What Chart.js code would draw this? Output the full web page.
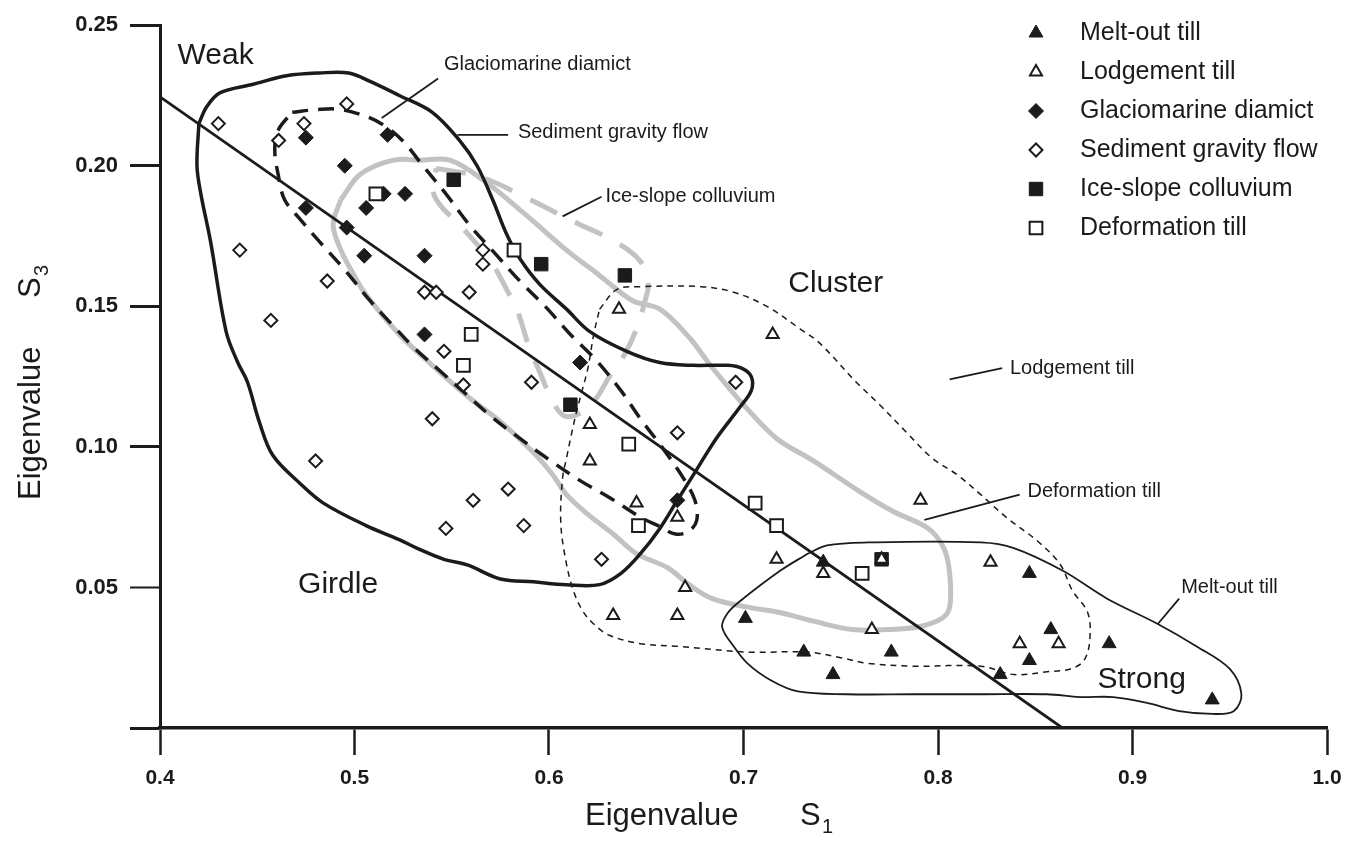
<!DOCTYPE html>
<html>
<head>
<meta charset="utf-8">
<script src="https://cdn.jsdelivr.net/npm/chart.js"></script>
<style>
  html, body { margin: 0; padding: 0; background: #fff; }
  canvas { display: block; }
</style>
</head>
<body>
<canvas id="fabricChart" width="1364" height="846"></canvas>
<script>
// ticks
const xTicks = [0.4, 0.5, 0.6, 0.7, 0.8, 0.9, 1.0];
const xTickLabels = ['0.4', '0.5', '0.6', '0.7', '0.8', '0.9', '1.0'];
const yTicks = [0, 0.05, 0.10, 0.15, 0.20, 0.25];
const yTickLabels = ['', '0.05', '0.10', '0.15', '0.20', '0.25'];

// samples: S1 and S3 eigenvalues per facies
const meltOutS1 = [0.741, 0.701, 0.731, 0.776, 0.746, 0.832, 0.847, 0.858, 0.888, 0.847, 0.941];
const meltOutS3 = [0.059, 0.039, 0.027, 0.027, 0.019, 0.019, 0.055, 0.035, 0.030, 0.024, 0.010];

const lodgementS1 = [0.636, 0.715, 0.621, 0.621, 0.645, 0.666, 0.670, 0.633, 0.666, 0.717, 0.791, 0.741, 0.766, 0.827, 0.842, 0.862, 0.771];
const lodgementS3 = [0.149, 0.140, 0.108, 0.095, 0.080, 0.075, 0.050, 0.040, 0.040, 0.060, 0.081, 0.055, 0.035, 0.059, 0.030, 0.030, 0.060];

const glaciomarineS1 = [0.475, 0.517, 0.495, 0.515, 0.526, 0.506, 0.475, 0.496, 0.505, 0.536, 0.536, 0.616, 0.666];
const glaciomarineS3 = [0.210, 0.211, 0.200, 0.190, 0.190, 0.185, 0.185, 0.178, 0.168, 0.168, 0.140, 0.130, 0.081];

const gravityFlowS1 = [0.430, 0.496, 0.474, 0.461, 0.441, 0.486, 0.457, 0.480, 0.566, 0.566, 0.536, 0.542, 0.559, 0.546, 0.556, 0.591, 0.540, 0.666, 0.696, 0.579, 0.561, 0.547, 0.587, 0.627];
const gravityFlowS3 = [0.215, 0.222, 0.215, 0.209, 0.170, 0.159, 0.145, 0.095, 0.170, 0.165, 0.155, 0.155, 0.155, 0.134, 0.122, 0.123, 0.110, 0.105, 0.123, 0.085, 0.081, 0.071, 0.072, 0.060];

const iceSlopeS1 = [0.551, 0.596, 0.639, 0.611, 0.771];
const iceSlopeS3 = [0.195, 0.165, 0.161, 0.115, 0.060];

const deformationS1 = [0.511, 0.582, 0.560, 0.556, 0.641, 0.646, 0.706, 0.717, 0.761];
const deformationS3 = [0.190, 0.170, 0.140, 0.129, 0.101, 0.072, 0.080, 0.072, 0.055];

// girdle-cluster dividing line
const trendS1 = [0.4, 0.864];
const trendS3 = [0.2245, 0.0];

// field outlines, [S1, S3]
const gravityFlowField = [
  [0.420,0.215],[0.424,0.221],[0.431,0.226],[0.448,0.229],[0.465,0.232],[0.482,0.233],[0.497,0.233],
  [0.508,0.230],[0.523,0.225],[0.540,0.219],[0.554,0.209],[0.563,0.200],[0.571,0.188],[0.578,0.176],
  [0.585,0.167],[0.595,0.158],[0.609,0.149],[0.621,0.141],[0.640,0.134],[0.657,0.130],[0.674,0.129],
  [0.692,0.129],[0.699,0.128],[0.704,0.125],[0.704,0.120],[0.698,0.114],[0.686,0.103],[0.676,0.092],
  [0.666,0.081],[0.657,0.071],[0.647,0.062],[0.637,0.055],[0.626,0.051],[0.609,0.051],[0.592,0.052],
  [0.575,0.053],[0.558,0.058],[0.546,0.060],[0.532,0.064],[0.523,0.067],[0.506,0.072],[0.484,0.080],
  [0.472,0.087],[0.458,0.097],[0.451,0.109],[0.445,0.123],[0.440,0.130],[0.434,0.141],[0.426,0.173],
  [0.421,0.190],[0.419,0.200],[0.420,0.215]
];
const glaciomarineField = [
  [0.468,0.219],[0.481,0.220],[0.493,0.220],[0.508,0.217],[0.518,0.213],[0.526,0.208],[0.534,0.201],
  [0.547,0.190],[0.559,0.179],[0.572,0.169],[0.585,0.159],[0.598,0.150],[0.611,0.140],[0.624,0.131],
  [0.637,0.120],[0.647,0.110],[0.658,0.100],[0.669,0.089],[0.675,0.081],[0.676,0.074],[0.672,0.070],
  [0.665,0.069],[0.656,0.072],[0.647,0.075],[0.631,0.082],[0.616,0.088],[0.601,0.095],[0.585,0.103],
  [0.570,0.111],[0.557,0.119],[0.544,0.127],[0.531,0.135],[0.520,0.143],[0.508,0.152],[0.495,0.163],
  [0.482,0.173],[0.472,0.181],[0.464,0.188],[0.461,0.196],[0.459,0.206],[0.461,0.213],[0.468,0.219]
];
const iceSlopeField = [
  [0.542,0.199],[0.565,0.196],[0.590,0.188],[0.613,0.180],[0.634,0.173],[0.647,0.166],[0.651,0.158],
  [0.649,0.151],[0.645,0.142],[0.639,0.133],[0.631,0.125],[0.624,0.117],[0.616,0.112],[0.608,0.111],
  [0.602,0.116],[0.595,0.127],[0.590,0.135],[0.584,0.148],[0.579,0.155],[0.570,0.166],[0.554,0.179],
  [0.544,0.186],[0.540,0.192],[0.542,0.199]
];
const deformationField = [
  [0.493,0.188],[0.503,0.197],[0.520,0.202],[0.534,0.202],[0.549,0.202],[0.566,0.195],[0.589,0.182],
  [0.609,0.170],[0.626,0.161],[0.643,0.152],[0.657,0.149],[0.672,0.139],[0.683,0.129],[0.700,0.115],
  [0.717,0.103],[0.736,0.095],[0.760,0.084],[0.777,0.077],[0.795,0.071],[0.803,0.064],[0.806,0.055],
  [0.806,0.043],[0.802,0.039],[0.790,0.036],[0.774,0.035],[0.756,0.035],[0.736,0.038],[0.719,0.041],
  [0.702,0.043],[0.684,0.046],[0.672,0.051],[0.661,0.057],[0.645,0.062],[0.633,0.069],[0.620,0.076],
  [0.609,0.083],[0.602,0.090],[0.592,0.098],[0.575,0.109],[0.558,0.118],[0.540,0.129],[0.523,0.140],
  [0.506,0.154],[0.499,0.162],[0.493,0.170],[0.489,0.179],[0.493,0.188]
];
const lodgementField = [
  [0.626,0.149],[0.635,0.156],[0.648,0.157],[0.678,0.157],[0.695,0.155],[0.712,0.150],[0.729,0.142],
  [0.739,0.137],[0.758,0.123],[0.770,0.115],[0.784,0.105],[0.797,0.096],[0.810,0.090],[0.822,0.083],
  [0.835,0.075],[0.852,0.066],[0.863,0.058],[0.869,0.049],[0.877,0.041],[0.878,0.031],[0.875,0.024],
  [0.868,0.021],[0.856,0.020],[0.839,0.019],[0.822,0.022],[0.787,0.022],[0.764,0.023],[0.750,0.025],
  [0.733,0.027],[0.702,0.027],[0.667,0.029],[0.647,0.030],[0.631,0.033],[0.623,0.037],[0.617,0.042],
  [0.612,0.050],[0.608,0.062],[0.606,0.074],[0.607,0.089],[0.609,0.096],[0.612,0.106],[0.614,0.112],
  [0.617,0.120],[0.620,0.128],[0.623,0.140],[0.626,0.149]
];
const meltOutField = [
  [0.733,0.062],[0.743,0.065],[0.764,0.066],[0.822,0.066],[0.839,0.064],[0.864,0.056],[0.887,0.046],
  [0.913,0.037],[0.933,0.029],[0.950,0.021],[0.956,0.012],[0.952,0.006],[0.941,0.005],[0.924,0.006],
  [0.907,0.009],[0.890,0.011],[0.873,0.011],[0.856,0.012],[0.822,0.012],[0.787,0.012],[0.753,0.012],
  [0.728,0.013],[0.714,0.017],[0.702,0.023],[0.695,0.029],[0.689,0.036],[0.692,0.041],[0.698,0.045],
  [0.719,0.056],[0.733,0.062]
];

// leader lines from field to label, [S1, S3]
const leaderGlaciomarine = [[0.514,0.217],[0.543,0.231]];
const leaderGravityFlow = [[0.553,0.211],[0.579,0.211]];
const leaderIceSlope = [[0.607,0.182],[0.627,0.189]];
const leaderLodgement = [[0.806,0.124],[0.833,0.128]];
const leaderDeformation = [[0.793,0.074],[0.842,0.083]];
const leaderMeltOut = [[0.913,0.037],[0.924,0.046]];

// text on the plot, anchored at its left middle
const noteTexts = ['Weak', 'Cluster', 'Girdle', 'Strong', 'Glaciomarine diamict', 'Sediment gravity flow',
  'Ice-slope colluvium', 'Lodgement till', 'Deformation till', 'Melt-out till'];
const noteS1 = [0.409, 0.723, 0.471, 0.882, 0.546, 0.584, 0.629, 0.837, 0.846, 0.925];
const noteS3 = [0.239, 0.158, 0.051, 0.017, 0.236, 0.212, 0.189, 0.128, 0.084, 0.050];
const noteSizes = [30, 30, 30, 30, 20, 20, 20, 20, 20, 20];

const legendLabels = ['Melt-out till', 'Lodgement till', 'Glaciomarine diamict', 'Sediment gravity flow',
  'Ice-slope colluvium', 'Deformation till'];

const ink = '#1c1a1a';
const grey = '#c2c2c2';
const fontFamily = '"Liberation Sans", Arial, sans-serif';

const toPoints = (xs, ys) => xs.map((v, i) => ({ x: v, y: ys[i] }));
const toPairs = arr => arr.map(p => ({ x: p[0], y: p[1] }));

// marker look, same order as the legend
const markers = [
  { style: 'triangle', r: 8, fill: ink, bw: 1 },
  { style: 'triangle', r: 7, fill: '#fff', bw: 2 },
  { style: 'rectRot', r: 7.5, fill: ink, bw: 1 },
  { style: 'rectRot', r: 6.5, fill: '#fff', bw: 2 },
  { style: 'rect', r: 9.5, fill: ink, bw: 1 },
  { style: 'rect', r: 9, fill: '#fff', bw: 2 }
];

function pointSet(xs, ys, m, order) {
    return {
        data: toPoints(xs, ys),
        showLine: false,
        pointStyle: m.style,
        pointRadius: m.r,
        pointHoverRadius: m.r,
        pointBackgroundColor: m.fill,
        pointBorderColor: ink,
        pointBorderWidth: m.bw,
        order: order
    };
}

function lineSet(pairs, color, width, dash, order, tension) {
    return {
        data: toPairs(pairs),
        showLine: true,
        borderColor: color,
        borderWidth: width,
        borderDash: dash,
        pointRadius: 0,
        pointHoverRadius: 0,
        fill: false,
        tension: tension,
        borderCapStyle: 'butt',
        borderJoinStyle: 'round',
        order: order
    };
}

const trendPairs = trendS1.map((v, i) => [v, trendS3[i]]);

const datasets = [
    pointSet(lodgementS1, lodgementS3, markers[1], 0),
    pointSet(iceSlopeS1, iceSlopeS3, markers[4], 1),
    pointSet(meltOutS1, meltOutS3, markers[0], 2),
    pointSet(deformationS1, deformationS3, markers[5], 3),
    pointSet(glaciomarineS1, glaciomarineS3, markers[2], 4),
    pointSet(gravityFlowS1, gravityFlowS3, markers[3], 5),
    lineSet(gravityFlowField, ink, 3.5, [], 10, 0.35),
    lineSet(glaciomarineField, ink, 3.5, [16, 10], 11, 0.35),
    lineSet(lodgementField, ink, 1.5, [6, 5], 12, 0.35),
    lineSet(meltOutField, ink, 1.8, [], 13, 0.35),
    lineSet(trendPairs, ink, 2.8, [], 14, 0),
    lineSet(leaderGlaciomarine, ink, 1.8, [], 15, 0),
    lineSet(leaderGravityFlow, ink, 1.8, [], 15, 0),
    lineSet(leaderIceSlope, ink, 1.8, [], 15, 0),
    lineSet(leaderLodgement, ink, 1.8, [], 15, 0),
    lineSet(leaderDeformation, ink, 1.8, [], 15, 0),
    lineSet(leaderMeltOut, ink, 1.8, [], 15, 0),
    lineSet(iceSlopeField, grey, 5, [30, 20], 20, 0.35),
    lineSet(deformationField, grey, 5, [], 21, 0.35)
];

function drawMarker(ctx, m, cx, cy) {
    ctx.beginPath();
    if (m.style === 'triangle') {
        ctx.moveTo(cx, cy - m.r);
        ctx.lineTo(cx + m.r * 0.866, cy + m.r / 2);
        ctx.lineTo(cx - m.r * 0.866, cy + m.r / 2);
    } else if (m.style === 'rectRot') {
        ctx.moveTo(cx, cy - m.r);
        ctx.lineTo(cx + m.r, cy);
        ctx.lineTo(cx, cy + m.r);
        ctx.lineTo(cx - m.r, cy);
    } else {
        const h = m.r * Math.SQRT1_2;
        ctx.rect(cx - h, cy - h, 2 * h, 2 * h);
    }
    ctx.closePath();
    ctx.fillStyle = m.fill;
    ctx.fill();
    ctx.lineWidth = m.bw;
    ctx.strokeStyle = ink;
    ctx.stroke();
}

const overlay = {
    id: 'overlay',
    afterDraw(chart) {
        const { ctx, scales } = chart;
        const sx = scales.x, sy = scales.y;
        ctx.save();
        ctx.fillStyle = ink;
        ctx.textAlign = 'left';
        ctx.textBaseline = 'middle';
        noteTexts.forEach((t, i) => {
            ctx.font = noteSizes[i] + 'px ' + fontFamily;
            ctx.fillStyle = ink;
            ctx.fillText(t, sx.getPixelForValue(noteS1[i]), sy.getPixelForValue(noteS3[i]));
        });

        // legend, top right
        legendLabels.forEach((t, i) => {
            const yy = 33 + i * 39;
            drawMarker(ctx, markers[i], 1036, yy);
            ctx.font = '25px ' + fontFamily;
            ctx.fillStyle = ink;
            ctx.fillText(t, 1080, yy);
        });

        // axis titles with subscripts
        ctx.textBaseline = 'alphabetic';
        ctx.font = '31px ' + fontFamily;
        ctx.fillText('Eigenvalue', 585, 825);
        ctx.fillText('S', 800, 825);
        ctx.font = '20px ' + fontFamily;
        ctx.fillText('1', 822, 833);

        ctx.translate(40, 500);
        ctx.rotate(-Math.PI / 2);
        ctx.font = '31px ' + fontFamily;
        ctx.fillText('Eigenvalue', 0, 0);
        ctx.fillText('S', 202, 0);
        ctx.font = '20px ' + fontFamily;
        ctx.fillText('3', 224, 8);
        ctx.restore();
    }
};

new Chart(document.getElementById('fabricChart').getContext('2d'), {
    type: 'scatter',
    data: { datasets: datasets },
    options: {
        responsive: false,
        animation: false,
        devicePixelRatio: 1,
        layout: { padding: { top: 21, right: 37, bottom: 0, left: 0 } },
        plugins: {
            legend: { display: false },
            tooltip: { enabled: false }
        },
        scales: {
            x: {
                type: 'linear',
                min: 0.4,
                max: 1.0,
                afterFit: s => { s.height = 118; },
                afterBuildTicks: s => { s.ticks = xTicks.map(v => ({ value: v })); },
                ticks: {
                    autoSkip: false,
                    maxRotation: 0,
                    padding: 11,
                    color: ink,
                    font: { family: fontFamily, size: 21, weight: 'bold' },
                    callback: (v, i) => xTickLabels[i]
                },
                grid: { drawOnChartArea: false, tickLength: 27, tickWidth: 2.5, color: ink },
                border: { width: 3.5, color: ink }
            },
            y: {
                type: 'linear',
                min: 0,
                max: 0.25,
                afterFit: s => { s.width = 160; },
                afterBuildTicks: s => { s.ticks = yTicks.map(v => ({ value: v })); },
                ticks: {
                    autoSkip: false,
                    padding: 12,
                    color: ink,
                    font: { family: fontFamily, size: 22, weight: 'bold' },
                    callback: (v, i) => yTickLabels[i]
                },
                grid: {
                    drawOnChartArea: false,
                    tickLength: 30,
                    tickWidth: c => (c.index === 1 ? 2 : 3),
                    color: ink
                },
                border: { width: 3, color: ink }
            }
        }
    },
    plugins: [overlay]
});
</script>
</body>
</html>
